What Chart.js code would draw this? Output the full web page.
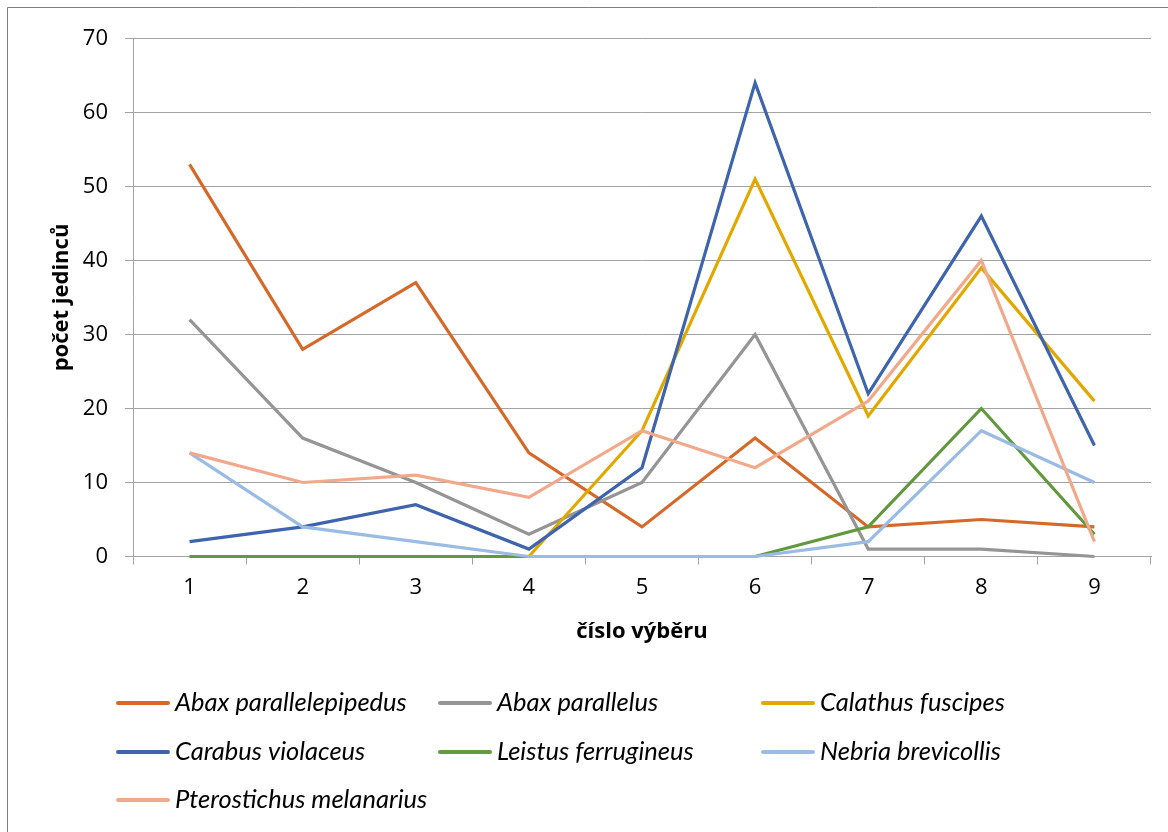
<!DOCTYPE html>
<html>
<head>
<meta charset="utf-8">
<script src="https://cdn.jsdelivr.net/npm/chart.js@4/dist/chart.umd.min.js"></script>
<style>
html,body{margin:0;padding:0;background:#fff;}
#wrap{position:relative;width:1168px;height:832px;}
</style>
</head>
<body>
<div id="wrap"><canvas id="c" width="1168" height="832"></canvas></div>
<script>
const categories = ['1','2','3','4','5','6','7','8','9'];
const abaxParallelepipedus = [53, 28, 37, 14, 4, 16, 4, 5, 4];
const abaxParallelus = [32, 16, 10, 3, 10, 30, 1, 1, 0];
const calathusFuscipes = [0, 0, 0, 0, 17, 51, 19, 39, 21];
const carabusViolaceus = [2, 4, 7, 1, 12, 64, 22, 46, 15];
const leistusFerrugineus = [0, 0, 0, 0, 0, 0, 4, 20, 3];
const nebriaBrevicollis = [14, 4, 2, 0, 0, 0, 2, 17, 10];
const pterostichusMelanarius = [14, 10, 11, 8, 17, 12, 21, 40, 2];
const seriesNames = ['Abax parallelepipedus','Abax parallelus','Calathus fuscipes','Carabus violaceus','Leistus ferrugineus','Nebria brevicollis','Pterostichus melanarius'];
const seriesValues = [abaxParallelepipedus, abaxParallelus, calathusFuscipes, carabusViolaceus, leistusFerrugineus, nebriaBrevicollis, pterostichusMelanarius];
const seriesColors = ['#D4692A','#959595','#E1A900','#3E64AE','#62993E','#9ABBE2','#F1A98C'];
const yTitle = 'počet jedinců';
const xTitle = 'číslo výběru';

const FONT = "'Open Sans', sans-serif";
const GRID = '#a3a3a3';

const datasets = seriesNames.map((n, i) => ({
  label: n,
  data: seriesValues[i],
  borderColor: seriesColors[i],
  backgroundColor: seriesColors[i],
  borderWidth: 3.2,
  pointRadius: 0,
  tension: 0,
  fill: false,
  clip: 6,
  borderJoinStyle: 'miter',
  order: -i
}));

const legendPlugin = {
  id: 'gridLegend',
  afterDraw(chart) {
    const ctx = chart.ctx;
    ctx.save();
    ctx.strokeStyle = '#7f7f7f';
    ctx.lineWidth = 1;
    ctx.beginPath();
    ctx.moveTo(7.5, 900); ctx.lineTo(7.5, 7.5); ctx.lineTo(1300, 7.5);
    ctx.stroke();
    const colX = [116, 438, 761];
    const rowY = [703, 752, 800];
    chart.data.datasets.forEach((ds, i) => {
      const x = colX[i % 3], y = rowY[Math.floor(i / 3)];
      ctx.strokeStyle = ds.borderColor;
      ctx.lineWidth = 4;
      ctx.lineCap = 'round';
      ctx.beginPath();
      ctx.moveTo(x + 2, y); ctx.lineTo(x + 52, y);
      ctx.stroke();
      ctx.fillStyle = '#000';
      ctx.font = "italic 25.5px 'Liberation Sans Narrow', 'Lato', sans-serif";
      ctx.textBaseline = 'middle';
      ctx.textAlign = 'left';
      ctx.fillText(ds.label, x + 59, y);
    });
    ctx.restore();
  }
};

new Chart(document.getElementById('c'), {
  type: 'line',
  data: { labels: categories, datasets },
  plugins: [legendPlugin],
  options: {
    responsive: false,
    animation: false,
    events: [],
    layout: { padding: { left: 49, right: 17, top: 38.5, bottom: 187 } },
    plugins: { legend: { display: false }, tooltip: { enabled: false } },
    scales: {
      x: {
        type: 'category',
        offset: true,
        grid: { display: true, drawOnChartArea: false, drawTicks: true, tickLength: 8, offset: true, color: GRID },
        border: { display: true, color: GRID, width: 1 },
        ticks: { color: '#000', font: { family: FONT, size: 22 }, padding: 10, maxRotation: 0 },
        title: { display: true, text: xTitle, color: '#000', font: { family: FONT, size: 22, weight: 'bold' }, padding: { top: 0, bottom: 0 } },
        afterFit(s) { s.height = 88.5; }
      },
      y: {
        min: 0, max: 70,
        ticks: { stepSize: 10, color: '#000', font: { family: FONT, size: 22 }, padding: 17 },
        grid: { color: GRID, tickLength: 8, drawTicks: true },
        border: { display: true, color: GRID, width: 1 },
        title: { display: true, text: yTitle, color: '#000', font: { family: FONT, size: 22, weight: 'bold' }, padding: { top: 0, bottom: 0 } },
        afterFit(s) { s.width = 84; }
      }
    }
  }
});
</script>
</body>
</html>
